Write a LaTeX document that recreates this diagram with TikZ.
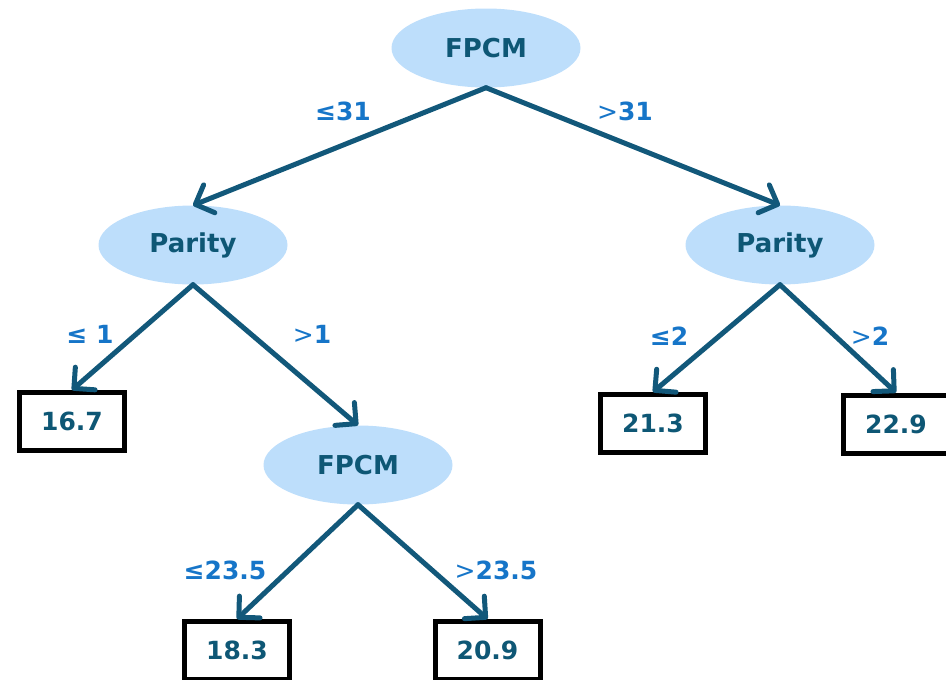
\documentclass[tikz,border=0pt]{standalone}
\usepackage{fontspec}
\setmainfont{DejaVu Sans}
\usetikzlibrary{shapes.geometric,arrows.meta}
\definecolor{ellfill}{RGB}{189,222,251}
\definecolor{edgecol}{RGB}{18,88,122}
\definecolor{nodetext}{RGB}{14,87,117}
\definecolor{labcol}{RGB}{22,117,200}
\begin{document}
\begin{tikzpicture}[x=1pt,y=-1pt,
  splitnode/.style={ellipse,fill=ellfill,draw=none,minimum width=189pt,minimum height=79pt,inner sep=0pt,
    text=nodetext,font=\fontsize{26}{30}\selectfont\bfseries},
  leafbox/.style={rectangle,draw=black,line width=5pt,fill=white,minimum width=105pt,minimum height=58pt,inner sep=0pt,
    text=nodetext,font=\fontsize{25}{30}\selectfont\bfseries},
  edgelab/.style={text=labcol,font=\fontsize{25}{30}\selectfont\bfseries,inner sep=0pt},
  branch/.style={draw=edgecol,line width=5pt,line cap=round,-{Straight Barb[length=15pt,width=30pt,line width=5pt,round]}}]
\useasboundingbox (0,0) rectangle (946,680);
\node[splitnode] (root) at (486,48) {FPCM};
\node[splitnode] (lp) at (193,245) {Parity};
\node[splitnode] (rp) at (780,245) {Parity};
\node[splitnode] (f2) at (358,465) {FPCM};
\node[leafbox] (b167) at (72,421.5) {16.7};
\node[leafbox] (b213) at (653,423.5) {21.3};
\node[leafbox] (b229) at (896,424) {22.9};
\node[leafbox] (b183) at (237,650.5) {18.3};
\node[leafbox] (b209) at (487.5,650.5) {20.9};
\draw[branch] (root.south) -- (lp.north);
\draw[branch] (root.south) -- (rp.north);
\draw[branch] (lp.south) -- (b167.north);
\draw[branch] (lp.south) -- (f2.north);
\draw[branch] (rp.south) -- (b213.north);
\draw[branch] (rp.south) -- (b229.north);
\draw[branch] (f2.south) -- (b183.north);
\draw[branch] (f2.south) -- (b209.north);
\node[edgelab] (l1) at (343,111) {≤31};
\node[edgelab] (l2) at (625,111) {\mdseries>\bfseries31};
\node[edgelab] (l3) at (90,334) {≤ 1};
\node[edgelab] (l4) at (312,334) {\mdseries>\bfseries1};
\node[edgelab] (l5) at (669,336) {≤2};
\node[edgelab] (l6) at (870,336) {\mdseries>\bfseries2};
\node[edgelab] (l7) at (225,570) {≤23.5};
\node[edgelab] (l8) at (496,570) {\mdseries>\bfseries23.5};
\end{tikzpicture}
\end{document}
